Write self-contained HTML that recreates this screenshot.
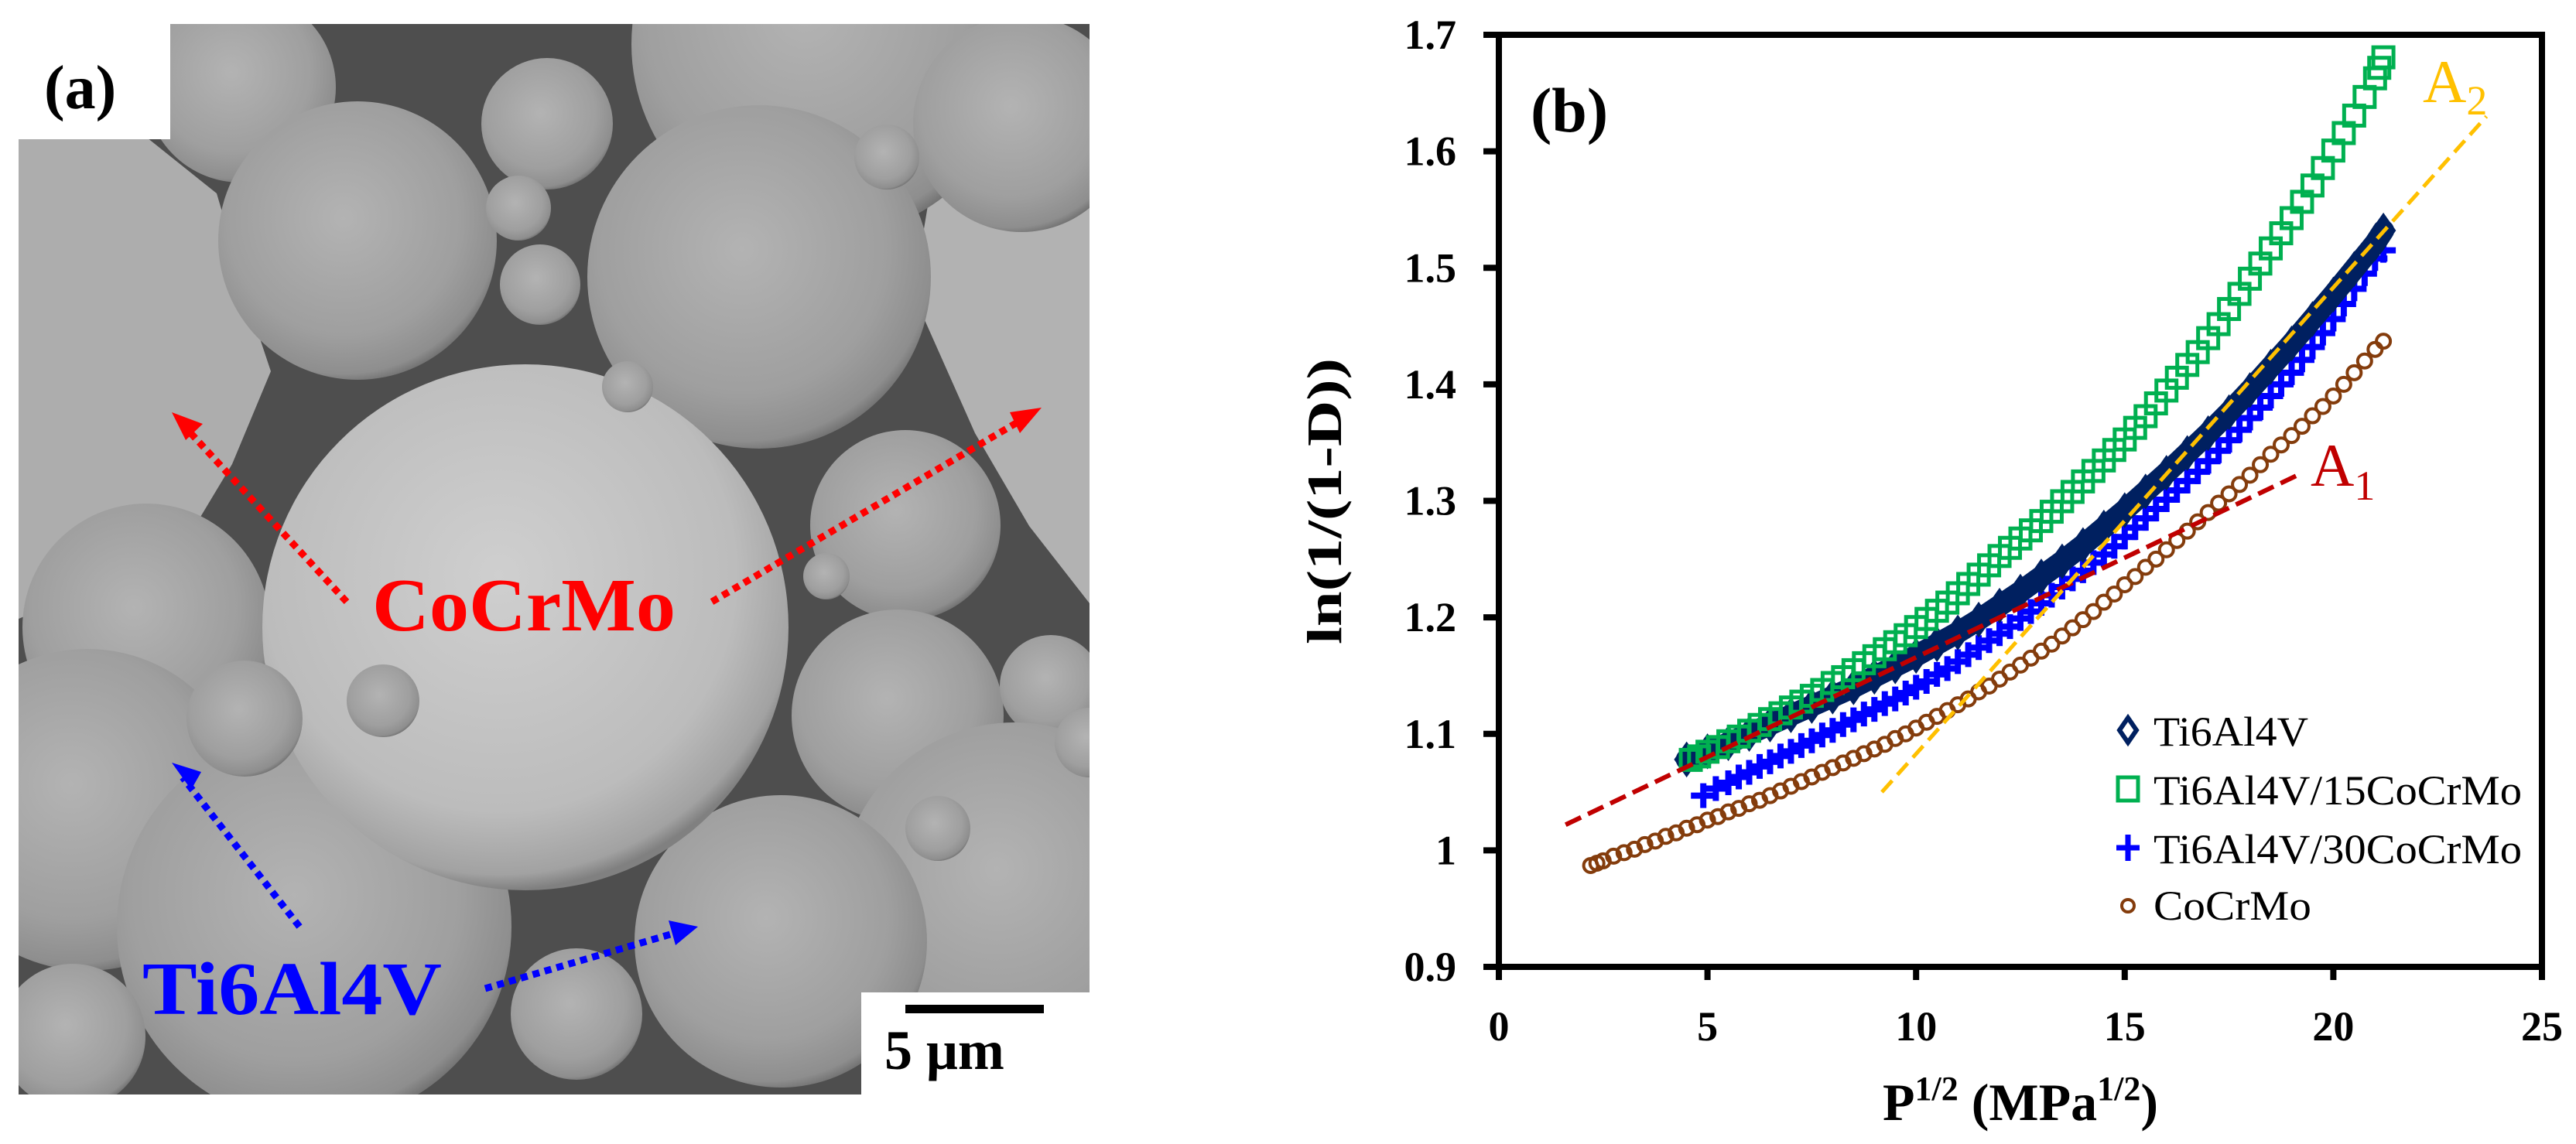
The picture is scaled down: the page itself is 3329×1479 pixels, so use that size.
<!DOCTYPE html>
<html><head><meta charset="utf-8"><style>
html,body{margin:0;padding:0;background:#fff;}
svg{display:block;}
text{font-family:"Liberation Serif",serif;}
</style></head><body>
<svg id="root" width="3329" height="1479" viewBox="0 0 3329 1479" xmlns="http://www.w3.org/2000/svg" font-family="Liberation Serif, serif">
<defs>
<radialGradient id="sph" cx="45%" cy="42%" r="60%">
<stop offset="0" stop-color="#b3b3b3"/><stop offset="0.7" stop-color="#9f9f9f"/><stop offset="0.93" stop-color="#8e8e8e"/><stop offset="1" stop-color="#6e6e6e"/>
</radialGradient>
<radialGradient id="sphL" cx="45%" cy="40%" r="60%">
<stop offset="0" stop-color="#cfcfcf"/><stop offset="0.75" stop-color="#bcbcbc"/><stop offset="0.95" stop-color="#a2a2a2"/><stop offset="1" stop-color="#808080"/>
</radialGradient>
<clipPath id="semclip"><rect x="24" y="31" width="1384" height="1384"/></clipPath>
</defs>

<g id="sem" clip-path="url(#semclip)">
<rect x="24" y="31" width="1384" height="1384" fill="#4e4e4e"/>
<path d="M24,180 L180,170 L280,250 L330,420 L350,480 L300,600 L240,700 L120,760 L24,800 Z" fill="#adadad"/>
<path d="M1408,150 L1290,170 L1200,260 L1180,380 L1260,560 L1330,680 L1408,780 Z" fill="#b2b2b2"/>
<g id="balls"></g>
</g>
<rect x="24" y="31" width="196" height="149" fill="#fff"/>
<text x="57" y="140" font-size="80" font-weight="bold" font-family="Liberation Serif, serif">(a)</text>
<rect x="1113" y="1283" width="295" height="132" fill="#fff"/>
<rect x="1170" y="1299" width="179" height="11" fill="#000"/>
<text x="1143" y="1382" font-size="72" font-weight="bold" font-family="Liberation Serif, serif">5 μm</text>

<g stroke="#f00" stroke-width="9" stroke-dasharray="9 7" fill="none">
<line x1="448" y1="778" x2="240" y2="553"/>
<line x1="920" y1="778" x2="1325" y2="540"/>
</g>
<polygon points="222,533 262,548 240,569" fill="#f00"/>
<polygon points="1346,527 1318,560 1305,533" fill="#f00"/>
<g stroke="#00f" stroke-width="9" stroke-dasharray="9 7" fill="none">
<line x1="387" y1="1198" x2="236" y2="1005"/>
<line x1="627" y1="1278" x2="880" y2="1204"/>
</g>
<polygon points="222,986 247,1021 260,998" fill="#00f"/>
<polygon points="902,1198 864,1190 873,1222" fill="#00f"/>
<text x="481" y="815" font-size="98" font-weight="bold" fill="#f00" font-family="Liberation Serif, serif" textLength="392" lengthAdjust="spacingAndGlyphs">CoCrMo</text>
<text x="184" y="1311" font-size="98" font-weight="bold" fill="#00f" font-family="Liberation Serif, serif" textLength="387" lengthAdjust="spacingAndGlyphs">Ti6Al4V</text>

<g id="chart"></g>
</svg>
<script>
// ---- chart data ----
const xTicks = [0, 5, 10, 15, 20, 25];
const yTicks = [0.9, 1, 1.1, 1.2, 1.3, 1.4, 1.5, 1.6, 1.7];
const yTickLabels = ["0.9", "1", "1.1", "1.2", "1.3", "1.4", "1.5", "1.6", "1.7"];
const tiX = [4.5,5,5.5,6,6.5,7,7.5,8,8.5,9,9.5,10,10.5,11,11.5,12,12.5,13,13.5,14,14.5,15,15.5,16,16.5,17,17.5,18,18.5,19,19.5,20,20.5,21,21.2];
const tiY = [1.078,1.085,1.092,1.1,1.108,1.116,1.124,1.132,1.14,1.149,1.158,1.167,1.177,1.187,1.198,1.21,1.222,1.235,1.248,1.262,1.277,1.292,1.308,1.324,1.341,1.358,1.376,1.395,1.415,1.435,1.456,1.477,1.499,1.521,1.532];
const t15X = [4.6,4.8,5,5.25,5.5,5.75,6,6.25,6.5,6.75,7,7.25,7.5,7.75,8,8.25,8.5,8.75,9,9.25,9.5,9.75,10,10.25,10.5,10.75,11,11.25,11.5,11.75,12,12.25,12.5,12.75,13,13.25,13.5,13.75,14,14.25,14.5,14.75,15,15.25,15.5,15.75,16,16.25,16.5,16.75,17,17.25,17.5,17.75,18,18.25,18.5,18.75,19,19.25,19.5,19.75,20,20.25,20.5,20.75,21,21.1,21.2];
const t15Y = [1.075,1.078,1.082,1.086,1.091,1.095,1.1,1.105,1.11,1.115,1.12,1.125,1.13,1.135,1.141,1.146,1.152,1.158,1.164,1.17,1.176,1.182,1.189,1.196,1.203,1.21,1.218,1.226,1.234,1.242,1.25,1.257,1.265,1.272,1.28,1.288,1.297,1.305,1.314,1.323,1.332,1.341,1.35,1.36,1.37,1.381,1.392,1.403,1.414,1.425,1.437,1.449,1.462,1.475,1.488,1.501,1.514,1.527,1.54,1.554,1.568,1.583,1.598,1.613,1.628,1.644,1.66,1.669,1.678];
const t30X = [4.9,5.2,5.5,5.75,6,6.25,6.5,6.75,7,7.25,7.5,7.75,8,8.25,8.5,8.75,9,9.25,9.5,9.75,10,10.25,10.5,10.75,11,11.25,11.5,11.75,12,12.25,12.5,12.75,13,13.25,13.5,13.75,14,14.25,14.5,14.75,15,15.25,15.5,15.75,16,16.25,16.5,16.75,17,17.25,17.5,17.75,18,18.25,18.5,18.75,19,19.25,19.5,19.75,20,20.25,20.5,20.75,21,21.2];
const t30Y = [1.047,1.053,1.058,1.063,1.067,1.072,1.076,1.081,1.085,1.09,1.094,1.099,1.103,1.108,1.112,1.117,1.121,1.126,1.13,1.135,1.14,1.145,1.151,1.156,1.162,1.168,1.174,1.18,1.186,1.192,1.199,1.205,1.212,1.219,1.226,1.233,1.24,1.247,1.254,1.261,1.269,1.277,1.285,1.293,1.301,1.309,1.317,1.325,1.334,1.343,1.352,1.361,1.371,1.38,1.39,1.4,1.41,1.421,1.432,1.444,1.456,1.469,1.482,1.495,1.508,1.515];
const coX = [2.2,2.35,2.5,2.75,3,3.25,3.5,3.75,4,4.25,4.5,4.75,5,5.25,5.5,5.75,6,6.25,6.5,6.75,7,7.25,7.5,7.75,8,8.25,8.5,8.75,9,9.25,9.5,9.75,10,10.25,10.5,10.75,11,11.25,11.5,11.75,12,12.25,12.5,12.75,13,13.25,13.5,13.75,14,14.25,14.5,14.75,15,15.25,15.5,15.75,16,16.25,16.5,16.75,17,17.25,17.5,17.75,18,18.25,18.5,18.75,19,19.25,19.5,19.75,20,20.25,20.5,20.75,21,21.2];
const coY = [0.987,0.989,0.991,0.995,0.998,1.001,1.005,1.008,1.012,1.015,1.019,1.022,1.026,1.029,1.033,1.036,1.04,1.043,1.047,1.051,1.055,1.059,1.063,1.067,1.071,1.075,1.079,1.083,1.087,1.091,1.096,1.1,1.105,1.11,1.115,1.12,1.125,1.13,1.136,1.141,1.147,1.153,1.159,1.165,1.171,1.177,1.184,1.191,1.198,1.205,1.213,1.22,1.228,1.235,1.243,1.25,1.258,1.266,1.274,1.282,1.29,1.298,1.306,1.314,1.322,1.331,1.34,1.348,1.356,1.364,1.373,1.381,1.39,1.4,1.41,1.42,1.43,1.437];
const fitA1X = [1.6, 19.14];
const fitA1Y = [1.022, 1.322];
const fitA2X = [9.18, 23.67];
const fitA2Y = [1.05, 1.63];
const legendLabels = ["Ti6Al4V", "Ti6Al4V/15CoCrMo", "Ti6Al4V/30CoCrMo", "CoCrMo"];

// ---- SEM spheres (decorative image) ----
const balls = [
[1066,57,250,0],[311,113,123,0],[707,160,85,0],[1320,160,140,0],[462,311,180,0],[981,358,222,0],[1146,203,42,0],
[670,269,42,0],[698,368,52,0],[1170,679,123,0],[189,811,160,0],[1160,925,137,0],[1358,887,66,0],
[1311,1160,226,0],[1009,1217,189,0],[113,1047,208,0],[406,1198,255,0],[745,1311,85,0],[94,1340,94,0],
[679,811,340,1],[316,929,75,0],[495,906,47,0],[1212,1071,42,0],[811,500,33,0],[1068,745,30,0],[1408,960,45,0]
];
const NS = "http://www.w3.org/2000/svg";
const bg = document.getElementById("balls");
balls.forEach(b => {
  const c = document.createElementNS(NS, "circle");
  c.setAttribute("cx", b[0]); c.setAttribute("cy", b[1]); c.setAttribute("r", b[2]);
  c.setAttribute("fill", b[3] ? "url(#sphL)" : "url(#sph)");
  
  
  bg.appendChild(c);
});

// ---- chart ----
const X0 = 1937, X1 = 3285, Y0 = 1250, Y1 = 45;
const xs = v => X0 + (v - 0) / 25 * (X1 - X0);
const ys = v => Y0 - (v - 0.9) / 0.8 * (Y0 - Y1);
const chart = document.getElementById("chart");
function el(tag, attrs, parent) {
  const e = document.createElementNS(NS, tag);
  for (const k in attrs) e.setAttribute(k, attrs[k]);
  (parent || chart).appendChild(e);
  return e;
}

const frame = el("rect", {x: X0, y: Y1, width: X1 - X0, height: Y0 - Y1, fill: "none", stroke: "#000", "stroke-width": 8});



xTicks.forEach(v => {
  const t = el("line", {x1: xs(v), x2: xs(v), y1: Y0, y2: Y0 + 17, stroke: "#000", "stroke-width": 8});
  
  
  const l = el("text", {x: xs(v), y: Y0 + 95, "font-size": 54, "font-weight": "bold", "text-anchor": "middle"});
  l.textContent = String(v);
  
  
});
yTicks.forEach((v, i) => {
  const t = el("line", {x1: X0 - 20, x2: X0, y1: ys(v), y2: ys(v), stroke: "#000", "stroke-width": 8});
  
  
  const l = el("text", {x: 1882, y: ys(v) + 18, "font-size": 54, "font-weight": "bold", "text-anchor": "end"});
  l.textContent = yTickLabels[i];
  
  
});

const xt = el("text", {x: 2611, y: 1448, "font-size": 68, "font-weight": "bold", "text-anchor": "middle"});
xt.innerHTML = 'P<tspan font-size="44" dy="-26">1/2</tspan><tspan dy="26"> (MPa</tspan><tspan font-size="44" dy="-26">1/2</tspan><tspan dy="26">)</tspan>';


const yt = el("text", {x: 0, y: 0, "font-size": 64, "font-weight": "bold", "text-anchor": "middle", transform: "translate(1733,648) rotate(-90)", textLength: 370, lengthAdjust: "spacingAndGlyphs"});
yt.textContent = "ln(1/(1-D))";


const pb = el("text", {x: 1978, y: 170, "font-size": 82, "font-weight": "bold"});
pb.textContent = "(b)";



function diamond(g, x, y, s) {
  const d = el("polygon", {points: `${x},${y - s} ${x + s * 0.7},${y} ${x},${y + s} ${x - s * 0.7},${y}`, fill: "none", stroke: "#002060", "stroke-width": 6}, g);
  
  
}
function square(g, x, y, s) {
  const d = el("rect", {x: x - s, y: y - s, width: 2 * s, height: 2 * s, fill: "none", stroke: "#00B050", "stroke-width": 5}, g);
  
  
}
function plus(g, x, y, s) {
  const d = el("path", {d: `M${x - s},${y}H${x + s}M${x},${y - s}V${y + s}`, stroke: "#0000FF", "stroke-width": 8, fill: "none"}, g);
  
  
}
function circ(g, x, y, r) {
  const d = el("circle", {cx: x, cy: y, r: r, fill: "none", stroke: "#843C0C", "stroke-width": 4}, g);
  
  
}

const gCo = el("g", {});  
coX.forEach((x, i) => circ(gCo, xs(x), ys(coY[i]), 9));
const g30 = el("g", {});  
t30X.forEach((x, i) => plus(g30, xs(x), ys(t30Y[i]), 16));
const gTi = el("g", {});  
const band = el("polyline", {points: tiX.map((x, i) => xs(x) + "," + ys(tiY[i])).join(" "), fill: "none", stroke: "#002060", "stroke-width": 28, "stroke-linecap": "round"}, gTi);


tiX.forEach((x, i) => diamond(gTi, xs(x), ys(tiY[i]), 18));
const g15 = el("g", {});  
t15X.forEach((x, i) => square(g15, xs(x), ys(t15Y[i]) - 4, 13));

const a1 = el("line", {x1: xs(fitA1X[0]), y1: ys(fitA1Y[0]), x2: xs(fitA1X[1]), y2: ys(fitA1Y[1]), stroke: "#C00000", "stroke-width": 6, "stroke-dasharray": "22 10"});


const a2 = el("line", {x1: xs(fitA2X[0]), y1: ys(fitA2Y[0]), x2: xs(fitA2X[1]), y2: ys(fitA2Y[1]), stroke: "#FFC000", "stroke-width": 5, "stroke-dasharray": "20 10"});


const la1 = el("text", {x: 2986, y: 628, "font-size": 78, fill: "#C00000"});
la1.innerHTML = 'A<tspan font-size="54" dy="18">1</tspan>';


const la2 = el("text", {x: 3131, y: 132, "font-size": 78, fill: "#FFC000"});
la2.innerHTML = 'A<tspan font-size="54" dy="16">2</tspan>';



const legY = [944, 1020, 1096, 1169];
const legW = [200, 476, 476, 204];
const gL = el("g", {});  
legendLabels.forEach((lab, i) => {
  const mx = 2750, my = legY[i];
  if (i === 0) el("polygon", {points: `${mx},${my - 16} ${mx + 11},${my} ${mx},${my + 16} ${mx - 11},${my}`, fill: "none", stroke: "#002060", "stroke-width": 6}, gL);
  if (i === 1) el("rect", {x: mx - 13, y: my - 15, width: 26, height: 30, fill: "none", stroke: "#00B050", "stroke-width": 5}, gL);
  if (i === 2) el("path", {d: `M${mx - 15},${my}H${mx + 15}M${mx},${my - 17}V${my + 17}`, stroke: "#0000FF", "stroke-width": 7}, gL);
  if (i === 3) el("circle", {cx: mx, cy: my + 2, r: 8, fill: "none", stroke: "#843C0C", "stroke-width": 4}, gL);
  const t = el("text", {x: 2783, y: my + 20, "font-size": 54, textLength: legW[i], lengthAdjust: "spacingAndGlyphs"}, gL);
  t.textContent = lab;
  
  
});
</script>
</body></html>
